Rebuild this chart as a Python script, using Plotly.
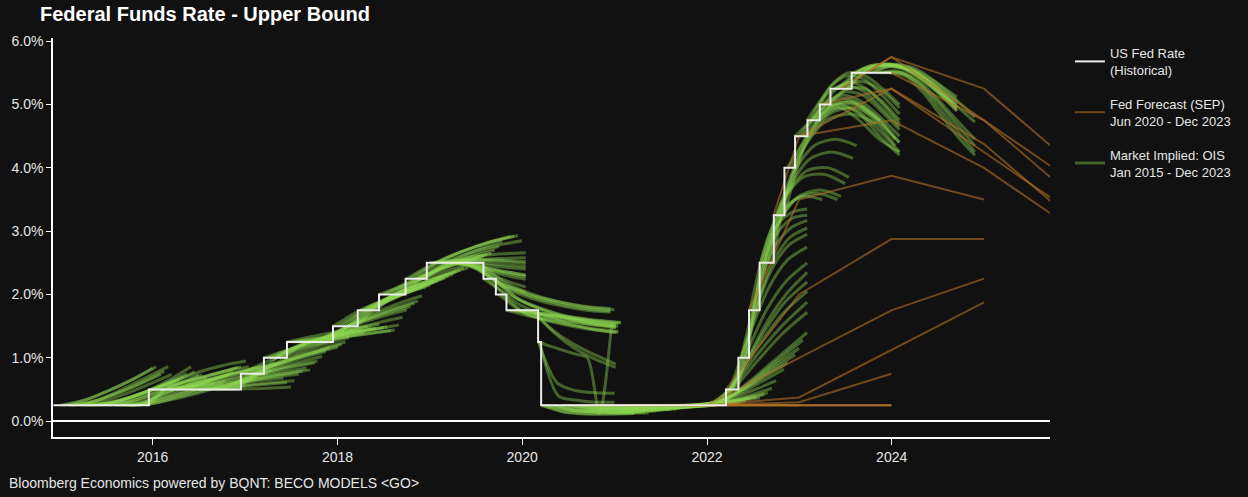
import pandas as pd
import plotly.graph_objects as go

# ---------------- DATA ----------------
# Historical Fed funds target, upper bound (%), step changes
fed_change_dates = ["2014-12-05", "2015-12-17", "2016-12-15", "2017-03-16", "2017-06-15",
                    "2017-12-14", "2018-03-22", "2018-06-14", "2018-09-27", "2018-12-20",
                    "2019-08-01", "2019-09-19", "2019-10-31", "2020-03-04", "2020-03-16",
                    "2022-03-17", "2022-05-05", "2022-06-16", "2022-07-28", "2022-09-22",
                    "2022-11-03", "2022-12-15", "2023-02-02", "2023-03-23", "2023-05-04",
                    "2023-07-27", "2023-12-31"]
fed_upper = [0.25, 0.50, 0.75, 1.00, 1.25, 1.50, 1.75, 2.00, 2.25, 2.50, 2.25, 2.00, 1.75,
             1.25, 0.25, 0.50, 1.00, 1.75, 2.50, 3.25, 4.00, 4.50, 4.75, 5.00, 5.25, 5.50, 5.50]

# Fed SEP median paths (upper bound, %), plotted at year ends
sep_meeting = ["2020-06-10", "2020-09-16", "2020-12-16", "2021-03-17", "2021-06-16",
               "2021-09-22", "2021-12-15", "2022-03-16", "2022-06-15", "2022-09-21",
               "2022-12-14", "2023-03-22", "2023-06-14", "2023-09-20", "2023-12-13"]
sep_rate_at_meeting = [0.25, 0.25, 0.25, 0.25, 0.25, 0.25, 0.25, 0.50, 1.75, 3.25,
                       4.50, 5.00, 5.25, 5.50, 5.50]
sep_first_year = [2020, 2020, 2020, 2021, 2021, 2021, 2021, 2022, 2022, 2022,
                  2022, 2023, 2023, 2023, 2023]
sep_median_path = [
    [0.25, 0.25, 0.25],
    [0.25, 0.25, 0.25, 0.25],
    [0.25, 0.25, 0.25, 0.25],
    [0.25, 0.25, 0.25],
    [0.25, 0.30, 0.75],
    [0.25, 0.375, 1.125, 1.875],
    [0.25, 1.00, 1.75, 2.25],
    [2.00, 2.875, 2.875],
    [3.50, 3.875, 3.50],
    [4.50, 4.75, 4.00, 3.00],
    [4.50, 5.25, 4.25, 3.25],
    [5.25, 4.375, 3.125],
    [5.75, 4.75, 3.50],
    [5.75, 5.25, 4.00, 3.00],
    [5.50, 4.75, 3.75, 3.00],
]

# Market-implied (OIS) paths: (curve date, horizon end, evenly spaced values in %)
ois_2015 = [
    ("2015-01-02", "2016-01-02", [0.25, 0.33, 0.47, 0.64, 0.84]),
    ("2015-01-15", "2016-01-15", [0.25, 0.34, 0.49, 0.66, 0.86]),
    ("2015-02-02", "2016-02-02", [0.25, 0.30, 0.42, 0.57, 0.74]),
    ("2015-02-16", "2016-02-16", [0.25, 0.32, 0.45, 0.61, 0.79]),
    ("2015-03-02", "2016-03-02", [0.25, 0.34, 0.50, 0.68, 0.86]),
    ("2015-03-16", "2016-03-16", [0.25, 0.31, 0.43, 0.58, 0.74]),
    ("2015-04-01", "2016-04-01", [0.25, 0.29, 0.38, 0.50, 0.64]),
    ("2015-04-15", "2016-04-15", [0.25, 0.29, 0.39, 0.52, 0.66]),
    ("2015-05-01", "2016-05-01", [0.25, 0.30, 0.41, 0.55, 0.70]),
    ("2015-05-15", "2016-05-15", [0.25, 0.31, 0.43, 0.58, 0.75]),
    ("2015-06-01", "2016-06-01", [0.25, 0.33, 0.46, 0.64, 0.86]),
    ("2015-06-15", "2016-06-15", [0.25, 0.32, 0.44, 0.60, 0.78]),
    ("2015-07-01", "2016-07-01", [0.25, 0.31, 0.43, 0.57, 0.73]),
    ("2015-07-15", "2016-07-15", [0.25, 0.32, 0.44, 0.58, 0.73]),
    ("2015-08-03", "2016-08-03", [0.25, 0.31, 0.42, 0.55, 0.69]),
    ("2015-08-14", "2016-08-14", [0.25, 0.29, 0.38, 0.49, 0.62]),
    ("2015-09-01", "2016-09-01", [0.25, 0.28, 0.36, 0.47, 0.59]),
    ("2015-09-15", "2016-09-15", [0.25, 0.27, 0.34, 0.43, 0.54]),
    ("2015-10-01", "2016-10-01", [0.25, 0.28, 0.37, 0.47, 0.58]),
    ("2015-10-15", "2016-10-15", [0.25, 0.33, 0.43, 0.53, 0.63]),
    ("2015-11-02", "2016-11-02", [0.25, 0.40, 0.52, 0.63, 0.74]),
    ("2015-11-16", "2016-11-16", [0.25, 0.45, 0.56, 0.67, 0.78]),
    ("2015-12-01", "2016-12-01", [0.25, 0.53, 0.63, 0.74, 0.85]),
    ("2015-12-15", "2016-12-15", [0.25, 0.56, 0.66, 0.76, 0.86]),
]
ois_2016 = [
    ("2016-01-04", "2017-01-04", [0.50, 0.64, 0.78, 0.88, 0.95]),
    ("2016-01-15", "2017-01-15", [0.50, 0.60, 0.70, 0.79, 0.86]),
    ("2016-02-01", "2017-02-01", [0.50, 0.53, 0.57, 0.61, 0.66]),
    ("2016-02-16", "2017-02-16", [0.50, 0.54, 0.59, 0.64, 0.70]),
    ("2016-03-01", "2017-03-01", [0.50, 0.58, 0.67, 0.75, 0.83]),
    ("2016-03-15", "2017-03-15", [0.50, 0.60, 0.69, 0.78, 0.86]),
    ("2016-04-01", "2017-04-01", [0.50, 0.57, 0.64, 0.70, 0.76]),
    ("2016-04-15", "2017-04-15", [0.50, 0.59, 0.67, 0.74, 0.80]),
    ("2016-05-02", "2017-05-02", [0.50, 0.63, 0.74, 0.83, 0.91]),
    ("2016-05-16", "2017-05-16", [0.50, 0.64, 0.75, 0.84, 0.92]),
    ("2016-06-01", "2017-06-01", [0.50, 0.55, 0.60, 0.64, 0.68]),
    ("2016-06-15", "2017-06-15", [0.50, 0.52, 0.55, 0.58, 0.61]),
    ("2016-07-01", "2017-07-01", [0.50, 0.50, 0.51, 0.52, 0.54]),
    ("2016-07-15", "2017-07-15", [0.50, 0.53, 0.57, 0.61, 0.64]),
    ("2016-08-01", "2017-08-01", [0.50, 0.58, 0.65, 0.70, 0.74]),
    ("2016-08-15", "2017-08-15", [0.50, 0.60, 0.68, 0.74, 0.79]),
    ("2016-09-01", "2017-09-01", [0.50, 0.62, 0.71, 0.78, 0.84]),
    ("2016-09-15", "2017-09-15", [0.50, 0.60, 0.68, 0.75, 0.81]),
    ("2016-10-03", "2017-10-03", [0.50, 0.68, 0.77, 0.85, 0.92]),
    ("2016-10-14", "2017-10-14", [0.50, 0.70, 0.80, 0.88, 0.95]),
    ("2016-11-01", "2017-11-01", [0.50, 0.70, 0.82, 0.93, 1.02]),
    ("2016-11-15", "2017-11-15", [0.50, 0.75, 0.88, 1.00, 1.10]),
    ("2016-12-01", "2017-12-01", [0.50, 0.78, 0.92, 1.05, 1.16]),
    ("2016-12-15", "2017-12-15", [0.75, 0.92, 1.06, 1.18, 1.28]),
]
ois_2017 = [
    ("2017-01-03", "2018-01-03", [0.75, 0.86, 0.98, 1.08, 1.17]),
    ("2017-01-16", "2018-01-16", [0.75, 0.87, 1.00, 1.11, 1.21]),
    ("2017-02-01", "2018-02-01", [0.75, 0.90, 1.04, 1.15, 1.25]),
    ("2017-02-15", "2018-02-15", [0.75, 0.95, 1.10, 1.22, 1.32]),
    ("2017-03-01", "2018-03-01", [0.75, 1.08, 1.22, 1.34, 1.45]),
    ("2017-03-15", "2018-03-15", [1.00, 1.12, 1.24, 1.35, 1.45]),
    ("2017-04-03", "2018-04-03", [1.00, 1.14, 1.25, 1.35, 1.44]),
    ("2017-04-17", "2018-04-17", [1.00, 1.13, 1.23, 1.32, 1.40]),
    ("2017-05-01", "2018-05-01", [1.00, 1.20, 1.30, 1.40, 1.50]),
    ("2017-05-15", "2018-05-15", [1.00, 1.21, 1.31, 1.40, 1.48]),
    ("2017-06-01", "2018-06-01", [1.00, 1.24, 1.32, 1.40, 1.47]),
    ("2017-06-15", "2018-06-15", [1.25, 1.33, 1.40, 1.47, 1.53]),
    ("2017-07-03", "2018-07-03", [1.25, 1.30, 1.36, 1.42, 1.48]),
    ("2017-07-17", "2018-07-17", [1.25, 1.31, 1.37, 1.43, 1.49]),
    ("2017-08-01", "2018-08-01", [1.25, 1.28, 1.33, 1.38, 1.43]),
    ("2017-08-15", "2018-08-15", [1.25, 1.29, 1.34, 1.39, 1.44]),
    ("2017-09-01", "2018-09-01", [1.25, 1.31, 1.38, 1.45, 1.52]),
    ("2017-09-15", "2018-09-15", [1.25, 1.37, 1.47, 1.56, 1.64]),
    ("2017-10-02", "2018-10-02", [1.25, 1.42, 1.55, 1.66, 1.76]),
    ("2017-10-16", "2018-10-16", [1.25, 1.45, 1.59, 1.71, 1.81]),
    ("2017-11-01", "2018-11-01", [1.25, 1.47, 1.62, 1.75, 1.86]),
    ("2017-11-15", "2018-11-15", [1.25, 1.50, 1.66, 1.79, 1.90]),
    ("2017-12-01", "2018-12-01", [1.25, 1.55, 1.72, 1.86, 1.98]),
    ("2017-12-15", "2018-12-15", [1.50, 1.72, 1.88, 2.01, 2.12]),
]
ois_2018 = [
    ("2018-01-02", "2019-01-02", [1.50, 1.72, 1.89, 2.03, 2.15]),
    ("2018-01-16", "2019-01-16", [1.50, 1.74, 1.92, 2.07, 2.20]),
    ("2018-02-01", "2019-02-01", [1.50, 1.75, 1.93, 2.08, 2.22]),
    ("2018-02-15", "2019-02-15", [1.50, 1.78, 1.96, 2.12, 2.26]),
    ("2018-03-01", "2019-03-01", [1.50, 1.80, 1.97, 2.12, 2.26]),
    ("2018-03-15", "2019-03-15", [1.50, 1.82, 2.00, 2.15, 2.29]),
    ("2018-04-02", "2019-04-02", [1.75, 1.92, 2.07, 2.20, 2.32]),
    ("2018-04-16", "2019-04-16", [1.75, 1.94, 2.10, 2.24, 2.36]),
    ("2018-05-01", "2019-05-01", [1.75, 1.97, 2.12, 2.26, 2.38]),
    ("2018-05-15", "2019-05-15", [1.75, 2.00, 2.16, 2.30, 2.42]),
    ("2018-06-01", "2019-06-01", [1.75, 2.03, 2.18, 2.31, 2.42]),
    ("2018-06-15", "2019-07-01", [2.00, 2.14, 2.28, 2.40, 2.50]),
    ("2018-07-02", "2019-08-01", [2.00, 2.20, 2.36, 2.49, 2.60]),
    ("2018-07-16", "2019-08-15", [2.00, 2.21, 2.38, 2.52, 2.63]),
    ("2018-08-01", "2019-09-01", [2.00, 2.22, 2.40, 2.54, 2.65]),
    ("2018-08-15", "2019-09-15", [2.00, 2.25, 2.44, 2.59, 2.70]),
    ("2018-09-04", "2019-10-01", [2.00, 2.28, 2.48, 2.64, 2.76]),
    ("2018-09-17", "2019-10-15", [2.00, 2.32, 2.54, 2.71, 2.84]),
    ("2018-10-01", "2019-11-15", [2.25, 2.48, 2.66, 2.80, 2.92]),
    ("2018-10-15", "2019-12-01", [2.25, 2.50, 2.68, 2.82, 2.92]),
    ("2018-11-01", "2019-12-15", [2.25, 2.52, 2.70, 2.84, 2.93]),
    ("2018-11-15", "2019-12-31", [2.25, 2.50, 2.66, 2.77, 2.85]),
    ("2018-12-03", "2020-01-15", [2.25, 2.50, 2.60, 2.64, 2.66]),
    ("2018-12-17", "2020-01-15", [2.25, 2.50, 2.55, 2.57, 2.58]),
]
ois_2019 = [
    ("2019-01-02", "2020-01-15", [2.50, 2.53, 2.54, 2.52, 2.49]),
    ("2019-01-15", "2020-01-15", [2.50, 2.54, 2.55, 2.54, 2.52]),
    ("2019-02-01", "2020-01-15", [2.50, 2.52, 2.50, 2.47, 2.44]),
    ("2019-02-15", "2020-01-15", [2.50, 2.50, 2.47, 2.43, 2.40]),
    ("2019-03-01", "2020-01-15", [2.50, 2.48, 2.42, 2.36, 2.31]),
    ("2019-03-15", "2020-01-15", [2.50, 2.45, 2.37, 2.30, 2.24]),
    ("2019-04-01", "2020-01-15", [2.50, 2.46, 2.39, 2.33, 2.28]),
    ("2019-04-15", "2020-01-15", [2.50, 2.47, 2.41, 2.35, 2.30]),
    ("2019-05-01", "2020-01-15", [2.50, 2.42, 2.30, 2.20, 2.12]),
    ("2019-05-15", "2020-01-15", [2.50, 2.38, 2.24, 2.12, 2.04]),
    ("2019-06-03", "2020-12-15", [2.50, 2.20, 2.02, 1.90, 1.82, 1.78]),
    ("2019-06-17", "2020-12-15", [2.50, 2.15, 1.96, 1.84, 1.76, 1.72]),
    ("2019-07-01", "2020-12-15", [2.50, 2.15, 1.98, 1.86, 1.78, 1.74]),
    ("2019-07-15", "2020-12-31", [2.50, 2.18, 2.00, 1.88, 1.80, 1.76]),
    ("2019-08-01", "2021-01-05", [2.25, 1.98, 1.80, 1.66, 1.56, 1.50]),
    ("2019-08-15", "2021-01-05", [2.25, 1.90, 1.70, 1.56, 1.46, 1.40]),
    ("2019-09-03", "2021-01-05", [2.25, 1.95, 1.78, 1.66, 1.58, 1.53]),
    ("2019-09-16", "2021-01-05", [2.25, 1.92, 1.74, 1.62, 1.54, 1.48]),
    ("2019-10-01", "2021-01-15", [2.00, 1.72, 1.60, 1.52, 1.46, 1.42]),
    ("2019-10-15", "2021-01-15", [2.00, 1.70, 1.58, 1.50, 1.44, 1.40]),
    ("2019-11-01", "2021-01-15", [1.75, 1.66, 1.60, 1.56, 1.52, 1.50]),
    ("2019-11-15", "2021-01-15", [1.75, 1.70, 1.65, 1.61, 1.57, 1.54]),
    ("2019-12-02", "2021-01-25", [1.75, 1.70, 1.66, 1.62, 1.58, 1.55]),
    ("2019-12-16", "2021-01-25", [1.75, 1.71, 1.67, 1.63, 1.59, 1.56]),
]
ois_2020 = [
    ("2020-01-02", "2021-01-05", [1.75, 1.66, 1.58, 1.52, 1.48]),
    ("2020-01-15", "2021-01-05", [1.75, 1.68, 1.61, 1.55, 1.51]),
    ("2020-02-03", "2021-01-05", [1.75, 1.45, 1.22, 1.05, 0.90]),
    ("2020-02-14", "2021-01-05", [1.75, 1.40, 1.15, 0.98, 0.85]),
    ("2020-03-05", "2020-12-31", [1.25, 0.60, 0.48, 0.45, 0.44]),
    ("2020-03-06", "2020-12-20", [1.25, 1.18, 1.12, 1.06, 1.00, 0.12, 1.55]),
    ("2020-03-10", "2020-12-31", [1.25, 0.40, 0.33, 0.30, 0.30]),
    ("2020-03-17", "2021-03-17", [0.25, 0.15, 0.12, 0.12, 0.13]),
    ("2020-03-20", "2021-03-20", [0.25, 0.14, 0.11, 0.11, 0.12]),
    ("2020-04-01", "2021-04-01", [0.25, 0.18, 0.16, 0.15, 0.15]),
    ("2020-04-15", "2021-04-15", [0.25, 0.17, 0.15, 0.14, 0.14]),
    ("2020-05-01", "2021-05-01", [0.25, 0.17, 0.15, 0.14, 0.14]),
    ("2020-05-15", "2021-05-15", [0.25, 0.16, 0.14, 0.13, 0.13]),
    ("2020-06-01", "2021-06-01", [0.25, 0.19, 0.17, 0.16, 0.16]),
    ("2020-06-15", "2021-06-15", [0.25, 0.19, 0.17, 0.16, 0.16]),
    ("2020-07-01", "2021-07-01", [0.25, 0.20, 0.18, 0.17, 0.17]),
    ("2020-07-15", "2021-07-15", [0.25, 0.20, 0.18, 0.17, 0.18]),
    ("2020-08-03", "2021-08-03", [0.25, 0.20, 0.19, 0.18, 0.18]),
    ("2020-08-14", "2021-08-14", [0.25, 0.20, 0.19, 0.18, 0.19]),
    ("2020-09-01", "2021-09-01", [0.25, 0.21, 0.20, 0.19, 0.19]),
    ("2020-09-15", "2021-09-15", [0.25, 0.21, 0.20, 0.20, 0.20]),
    ("2020-10-01", "2021-10-01", [0.25, 0.21, 0.20, 0.20, 0.21]),
    ("2020-10-15", "2021-10-15", [0.25, 0.21, 0.21, 0.21, 0.22]),
    ("2020-11-02", "2021-11-02", [0.25, 0.21, 0.21, 0.21, 0.22]),
    ("2020-11-16", "2021-11-16", [0.25, 0.22, 0.22, 0.22, 0.23]),
    ("2020-12-01", "2021-12-01", [0.25, 0.21, 0.21, 0.22, 0.23]),
    ("2020-12-15", "2021-12-15", [0.25, 0.22, 0.22, 0.23, 0.25]),
]
ois_2021 = [
    ("2021-01-04", "2022-01-04", [0.25, 0.21, 0.21, 0.22, 0.24]),
    ("2021-01-15", "2022-01-15", [0.25, 0.21, 0.22, 0.23, 0.25]),
    ("2021-02-01", "2022-02-01", [0.25, 0.21, 0.22, 0.23, 0.25]),
    ("2021-02-16", "2022-02-16", [0.25, 0.22, 0.23, 0.25, 0.28]),
    ("2021-03-01", "2022-03-01", [0.25, 0.22, 0.23, 0.25, 0.28]),
    ("2021-03-15", "2022-03-15", [0.25, 0.22, 0.24, 0.27, 0.31]),
    ("2021-04-01", "2022-04-01", [0.25, 0.22, 0.23, 0.25, 0.29]),
    ("2021-04-15", "2022-04-15", [0.25, 0.22, 0.23, 0.26, 0.29]),
    ("2021-05-03", "2022-05-03", [0.25, 0.22, 0.23, 0.26, 0.30]),
    ("2021-05-17", "2022-05-17", [0.25, 0.22, 0.24, 0.27, 0.31]),
    ("2021-06-01", "2022-06-01", [0.25, 0.22, 0.24, 0.27, 0.32]),
    ("2021-06-15", "2022-06-15", [0.25, 0.23, 0.26, 0.30, 0.36]),
    ("2021-07-01", "2022-07-15", [0.25, 0.23, 0.26, 0.31, 0.38]),
    ("2021-07-15", "2022-07-29", [0.25, 0.23, 0.26, 0.31, 0.37]),
    ("2021-08-02", "2022-08-15", [0.25, 0.24, 0.28, 0.34, 0.42]),
    ("2021-08-16", "2022-08-29", [0.25, 0.24, 0.29, 0.36, 0.45]),
    ("2021-09-01", "2022-09-15", [0.25, 0.25, 0.31, 0.40, 0.52]),
    ("2021-09-15", "2022-10-01", [0.25, 0.26, 0.35, 0.48, 0.64]),
    ("2021-10-01", "2022-11-01", [0.25, 0.27, 0.40, 0.60, 0.82]),
    ("2021-10-15", "2022-11-15", [0.25, 0.29, 0.45, 0.68, 0.92]),
    ("2021-11-01", "2022-12-15", [0.25, 0.30, 0.50, 0.78, 1.05]),
    ("2021-11-15", "2022-12-31", [0.25, 0.32, 0.56, 0.86, 1.15]),
    ("2021-12-01", "2023-01-15", [0.25, 0.34, 0.62, 0.95, 1.28]),
    ("2021-12-15", "2023-02-01", [0.25, 0.38, 0.70, 1.05, 1.40]),
]
ois_2022 = [
    ("2022-01-03", "2023-02-01", [0.25, 0.50, 0.95, 1.38, 1.72]),
    ("2022-01-14", "2023-02-01", [0.25, 0.58, 1.08, 1.52, 1.88]),
    ("2022-02-01", "2023-02-01", [0.25, 0.68, 1.25, 1.72, 2.05]),
    ("2022-02-15", "2023-02-01", [0.25, 0.78, 1.38, 1.88, 2.20]),
    ("2022-03-01", "2023-02-01", [0.25, 0.85, 1.50, 2.00, 2.35]),
    ("2022-03-15", "2023-02-01", [0.25, 1.05, 1.75, 2.22, 2.50]),
    ("2022-04-01", "2023-02-01", [0.50, 1.35, 2.10, 2.55, 2.75]),
    ("2022-04-15", "2023-02-01", [0.50, 1.55, 2.35, 2.78, 2.95]),
    ("2022-05-02", "2023-02-01", [0.50, 1.70, 2.50, 2.90, 3.05]),
    ("2022-05-16", "2023-02-01", [1.00, 2.05, 2.75, 3.05, 3.17]),
    ("2022-06-01", "2023-02-01", [1.00, 2.30, 2.95, 3.20, 3.25]),
    ("2022-06-10", "2023-02-01", [1.00, 2.50, 3.10, 3.30, 3.35]),
    ("2022-06-20", "2023-04-01", [1.75, 2.90, 3.40, 3.55, 3.50]),
    ("2022-07-01", "2023-06-01", [1.75, 3.00, 3.50, 3.60, 3.50]),
    ("2022-07-15", "2023-06-15", [1.75, 3.10, 3.55, 3.65, 3.55]),
    ("2022-08-01", "2023-07-01", [2.50, 3.45, 3.85, 3.90, 3.75]),
    ("2022-08-15", "2023-07-15", [2.50, 3.55, 3.95, 4.00, 3.85]),
    ("2022-09-01", "2023-08-01", [2.50, 3.70, 4.15, 4.25, 4.15]),
    ("2022-09-15", "2023-08-15", [2.50, 3.90, 4.35, 4.45, 4.35]),
    ("2022-10-03", "2023-11-01", [3.25, 4.25, 4.75, 4.85, 4.70]),
    ("2022-10-14", "2023-11-15", [3.25, 4.35, 4.85, 4.95, 4.75]),
    ("2022-11-01", "2024-01-15", [3.25, 4.40, 4.95, 5.05, 4.85, 4.45]),
    ("2022-11-15", "2024-01-31", [4.00, 4.55, 4.95, 5.00, 4.80, 4.40]),
    ("2022-12-01", "2024-01-15", [4.00, 4.65, 5.00, 5.02, 4.75, 4.35]),
    ("2022-12-15", "2024-02-01", [4.50, 4.80, 4.95, 4.90, 4.60, 4.25]),
]
ois_2023 = [
    ("2023-01-03", "2024-02-01", [4.50, 4.90, 5.00, 4.85, 4.50, 4.20]),
    ("2023-01-16", "2024-02-01", [4.50, 4.95, 5.10, 5.00, 4.70, 4.40]),
    ("2023-02-01", "2024-02-01", [4.75, 5.15, 5.30, 5.22, 4.95, 4.65]),
    ("2023-02-15", "2024-02-01", [4.75, 5.25, 5.45, 5.40, 5.15, 4.85]),
    ("2023-03-01", "2024-02-01", [4.75, 5.30, 5.50, 5.45, 5.25, 5.00]),
    ("2023-03-10", "2024-02-01", [4.75, 5.20, 5.35, 5.25, 5.00, 4.70]),
    ("2023-03-20", "2024-02-01", [4.75, 4.95, 4.75, 4.45, 4.25]),
    ("2023-04-03", "2024-02-01", [5.00, 5.15, 5.05, 4.80, 4.50]),
    ("2023-04-14", "2024-02-01", [5.00, 5.20, 5.15, 4.90, 4.60]),
    ("2023-05-01", "2024-02-01", [5.00, 5.25, 5.25, 5.05, 4.75]),
    ("2023-05-15", "2024-02-01", [5.25, 5.35, 5.35, 5.20, 4.95]),
    ("2023-06-01", "2024-09-15", [5.25, 5.55, 5.62, 5.55, 5.30, 4.95]),
    ("2023-06-15", "2024-09-15", [5.25, 5.58, 5.64, 5.56, 5.32, 5.00]),
    ("2023-07-03", "2024-09-15", [5.25, 5.55, 5.60, 5.50, 5.25, 4.90]),
    ("2023-07-14", "2024-09-15", [5.25, 5.58, 5.62, 5.52, 5.28, 4.95]),
    ("2023-08-01", "2024-09-15", [5.50, 5.62, 5.62, 5.48, 5.22, 4.95]),
    ("2023-08-15", "2024-09-15", [5.50, 5.62, 5.61, 5.46, 5.20, 4.90]),
    ("2023-09-01", "2024-09-15", [5.50, 5.62, 5.60, 5.47, 5.27, 5.05]),
    ("2023-09-15", "2024-09-15", [5.50, 5.63, 5.62, 5.50, 5.32, 5.12]),
    ("2023-10-02", "2024-11-25", [5.50, 5.60, 5.55, 5.32, 5.02, 4.72]),
    ("2023-10-16", "2024-11-25", [5.50, 5.62, 5.58, 5.38, 5.10, 4.80]),
    ("2023-11-01", "2024-11-25", [5.50, 5.53, 5.42, 5.12, 4.78, 4.45]),
    ("2023-11-15", "2024-11-25", [5.50, 5.50, 5.35, 5.05, 4.70, 4.35]),
    ("2023-12-01", "2024-11-25", [5.50, 5.50, 5.30, 4.95, 4.60, 4.25]),
    ("2023-12-15", "2024-11-25", [5.50, 5.45, 5.20, 4.85, 4.50, 4.20]),
]

y_tick_values = [0, 1, 2, 3, 4, 5, 6]
y_tick_labels = ["0.0%", "1.0%", "2.0%", "3.0%", "4.0%", "5.0%", "6.0%"]

# ---------------- STYLE ----------------
BG = "#111111"
FONT = "Arial, Liberation Sans, sans-serif"
OIS_COLOR = "rgba(140, 214, 82, 0.42)"
SEP_COLOR = "rgba(176, 112, 40, 0.60)"
FED_COLOR = "#ececec"
TEXT = "#e6e6e6"

fig = go.Figure()

ois_all = ois_2015 + ois_2016 + ois_2017 + ois_2018 + ois_2019 + ois_2020 + ois_2021 + ois_2022 + ois_2023
for i, (start, end, vals) in enumerate(ois_all):
    s, e = pd.Timestamp(start), pd.Timestamp(end)
    n = len(vals)
    xs = [s + (e - s) * k / (n - 1) for k in range(n)]
    fig.add_trace(go.Scatter(
        x=xs, y=vals, mode="lines",
        line=dict(color=OIS_COLOR, width=3, shape="spline", smoothing=0.8),
        name="Market Implied: OIS<br>Jan 2015 - Dec 2023",
        legendgroup="ois", showlegend=(i == 0), legendrank=3, hoverinfo="skip"))

for i, m in enumerate(sep_meeting):
    years = range(sep_first_year[i], sep_first_year[i] + len(sep_median_path[i]))
    xs = [m] + [f"{y}-12-31" for y in years]
    ys = [sep_rate_at_meeting[i]] + sep_median_path[i]
    fig.add_trace(go.Scatter(
        x=xs, y=ys, mode="lines",
        line=dict(color=SEP_COLOR, width=2),
        name="Fed Forecast (SEP)<br>Jun 2020 - Dec 2023",
        legendgroup="sep", showlegend=(i == 0), legendrank=2, hoverinfo="skip"))

fig.add_trace(go.Scatter(
    x=fed_change_dates, y=fed_upper, mode="lines",
    line=dict(color=FED_COLOR, width=2, shape="hv"),
    name="US Fed Rate<br>(Historical)", legendgroup="fed", legendrank=1))

fig.update_layout(
    width=1248, height=497,
    paper_bgcolor=BG, plot_bgcolor=BG,
    margin=dict(l=50, r=197, t=38, b=60),
    font=dict(family=FONT, color=TEXT, size=13),
    title=dict(text="<b>Federal Funds Rate - Upper Bound</b>",
               font=dict(family=FONT, size=20, color="#ffffff"),
               x=40 / 1248, xanchor="left", xref="container",
               y=1 - 14 / 497, yanchor="middle", yref="container"),
    legend=dict(x=1.02, xanchor="left", y=1.0, yanchor="top",
                font=dict(family=FONT, size=13, color=TEXT),
                bgcolor="rgba(0,0,0,0)", tracegroupgap=14, valign="middle"),
    showlegend=True,
)

fig.update_xaxes(
    type="date", range=["2014-12-03", "2025-09-18"],
    tick0="2016-01-01", dtick="M24", tickformat="%Y",
    showgrid=False, zeroline=False,
    showline=True, linecolor="#ffffff", linewidth=1.5,
    ticks="outside", ticklen=6, tickcolor="#ffffff", tickwidth=1,
    tickfont=dict(family=FONT, size=14, color=TEXT))
fig.update_yaxes(
    range=[-0.25, 6.05], tickvals=y_tick_values, ticktext=y_tick_labels,
    showgrid=False, zeroline=True, zerolinecolor="#ffffff", zerolinewidth=1.5,
    showline=True, linecolor="#ffffff", linewidth=1.5,
    ticks="outside", ticklen=5, tickcolor="#ffffff", tickwidth=1,
    tickfont=dict(family=FONT, size=14, color=TEXT))

fig.add_annotation(
    text="Bloomberg Economics powered by BQNT: BECO MODELS <GO>",
    xref="paper", yref="paper", x=-46 / 1001, y=-(483 - 437) / 399,
    xanchor="left", yanchor="middle", showarrow=False,
    font=dict(family=FONT, size=14, color=TEXT))

fig.write_html("out.html",
               config={"displayModeBar": False},
               post_script="document.body.style.margin='0px';document.body.style.background='#111111';")
